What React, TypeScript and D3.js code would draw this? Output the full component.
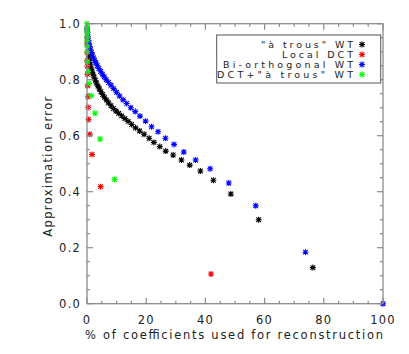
import React from "react";
import * as d3 from "d3";

// "à trous" WT (black)
const atrousX = [0.03, 0.1, 0.2, 0.4, 0.6, 0.8, 1.1, 1.4, 1.7, 2.0, 2.4, 2.8, 3.2, 3.7, 4.2, 4.7, 5.3, 5.9, 6.6, 7.3, 8.1, 8.9, 9.8, 10.7, 11.7, 12.8, 13.9, 15.1, 16.4, 17.8, 19.3, 21.0, 22.6, 24.6, 26.6, 29.1, 31.9, 34.7, 38.3, 42.7, 48.6, 58.0, 76.3];
const atrousY = [0.98, 0.95, 0.925, 0.9, 0.882, 0.869, 0.855, 0.842, 0.831, 0.82, 0.809, 0.798, 0.788, 0.777, 0.767, 0.757, 0.747, 0.737, 0.727, 0.717, 0.707, 0.697, 0.688, 0.68, 0.671, 0.661, 0.651, 0.64, 0.628, 0.617, 0.605, 0.591, 0.576, 0.561, 0.545, 0.531, 0.513, 0.495, 0.474, 0.441, 0.392, 0.3, 0.129];

// Local DCT (red)
const dctX = [0.03, 0.05, 0.08, 0.1, 0.15, 0.2, 0.3, 0.4, 0.5, 0.9, 1.7, 4.6, 41.9];
const dctY = [0.93, 0.896, 0.868, 0.849, 0.819, 0.778, 0.739, 0.701, 0.658, 0.605, 0.533, 0.418, 0.106];

// Bi-orthogonal WT (blue)
const biX = [0.05, 0.15, 0.3, 0.5, 0.7, 0.9, 1.2, 1.5, 1.8, 2.2, 2.6, 3.0, 3.5, 4.0, 4.6, 5.2, 5.8, 6.5, 7.3, 8.1, 9.0, 10.0, 11.0, 12.2, 13.4, 14.8, 16.3, 17.9, 19.8, 21.8, 24.0, 26.5, 29.4, 32.7, 36.7, 41.6, 47.9, 57.0, 73.8, 100];
const biY = [0.985, 0.97, 0.955, 0.94, 0.928, 0.918, 0.907, 0.897, 0.888, 0.878, 0.868, 0.86, 0.85, 0.84, 0.83, 0.82, 0.81, 0.8, 0.79, 0.78, 0.768, 0.755, 0.742, 0.728, 0.715, 0.7, 0.686, 0.67, 0.652, 0.632, 0.614, 0.591, 0.569, 0.542, 0.513, 0.482, 0.431, 0.35, 0.184, 0.0];

// DCT + "à trous" WT (green)
const comboX = [0.0, 0.0, 0.02, 0.03, 0.04, 0.05, 0.07, 0.1, 0.34, 0.7, 1.45, 2.7, 4.4, 9.3];
const comboY = [1.0, 0.985, 0.97, 0.955, 0.94, 0.92, 0.9, 0.864, 0.829, 0.787, 0.743, 0.68, 0.588, 0.444];

const seriesNames = ['"à trous" WT', "Local DCT", "Bi-orthogonal WT", 'DCT+"à trous" WT'];
const seriesColors = ["#000000", "#ff0000", "#0000ff", "#00ff00"];
const legendWidths = [92, 71, 130, 136];

const xTickFmt = d3.format("d");
const yTickFmt = d3.format(".1f");

const FONT = "'DejaVu Sans', sans-serif";

function Star({ cx, cy, color }: { cx: number; cy: number; color: string }) {
  const h = 3;
  const d = 2.3;
  return (
    <path
      d={`M${cx - h},${cy}H${cx + h}M${cx},${cy - h}V${cy + h}M${cx - d},${cy - d}L${cx + d},${cy + d}M${cx - d},${cy + d}L${cx + d},${cy - d}`}
      stroke={color}
      strokeWidth={1.1}
      fill="none"
    />
  );
}

export default function App() {
  const W = 409;
  const H = 354;
  const x = d3.scaleLinear().domain([0, 100]).range([87, 383]);
  const y = d3.scaleLinear().domain([0, 1]).range([303.7, 23.7]);
  const [x0, x1] = x.range();
  const [yb, yt] = y.range();
  const axisColor = "#8a8a8a";
  const textColor = "#222";

  const series = [
    { xs: atrousX, ys: atrousY },
    { xs: dctX, ys: dctY },
    { xs: biX, ys: biY },
    { xs: comboX, ys: comboY },
  ];

  const xMajor = x.ticks(5);
  const xMinor = x.ticks(20);
  const yMajor = y.ticks(5);
  const yMinor = y.ticks(20);
  const isMajor = (v: number, arr: number[]) => arr.some((m) => Math.abs(m - v) < 1e-9);

  return (
    <svg
      width={W}
      height={H}
      style={{ position: "absolute", left: 0, top: 0, background: "#fff" }}
      fontFamily={FONT}
    >
      <rect x={0} y={0} width={W} height={H} fill="#fff" />
      {/* data */}
      {series.map((s, si) =>
        s.xs.map((xv, i) => (
          <Star key={`${si}-${i}`} cx={x(xv)} cy={y(s.ys[i])} color={seriesColors[si]} />
        ))
      )}
      {/* frame */}
      <rect x={x0} y={yt} width={x1 - x0} height={yb - yt} fill="none" stroke={axisColor} strokeWidth={1.3} />
      {xMinor.map((v) => {
        const len = isMajor(v, xMajor) ? 6 : 3;
        return (
          <g key={`xt${v}`} stroke={axisColor} strokeWidth={1.2}>
            <line x1={x(v)} x2={x(v)} y1={yb} y2={yb - len} />
            <line x1={x(v)} x2={x(v)} y1={yt} y2={yt + len} />
          </g>
        );
      })}
      {yMinor.map((v) => {
        const len = isMajor(v, yMajor) ? 6 : 3;
        return (
          <g key={`yt${v}`} stroke={axisColor} strokeWidth={1.2}>
            <line x1={x0} x2={x0 + len} y1={y(v)} y2={y(v)} />
            <line x1={x1} x2={x1 - len} y1={y(v)} y2={y(v)} />
          </g>
        );
      })}
      {/* tick labels */}
      {xMajor.map((v) => (
        <text
          key={`xl${v}`}
          x={x(v)}
          y={324}
          textAnchor="middle"
          fontSize={11.5}
          letterSpacing={1.2}
          fill={textColor}
        >
          {xTickFmt(v)}
        </text>
      ))}
      {yMajor.map((v) => (
        <text
          key={`yl${v}`}
          x={81}
          y={y(v) + 4}
          textAnchor="end"
          fontSize={11.5}
          letterSpacing={1.2}
          fill={textColor}
        >
          {yTickFmt(v)}
        </text>
      ))}
      {/* axis titles */}
      <text
        x={85}
        y={339}
        fontSize={11.5}
        fill={textColor}
        textLength={298}
        lengthAdjust="spacing"
      >
        % of coefficients used for reconstruction
      </text>
      <text
        transform={`translate(52,236.7) rotate(-90)`}
        fontSize={11.5}
        fill={textColor}
        textLength={140}
        lengthAdjust="spacing"
      >
        Approximation error
      </text>
      {/* legend */}
      <rect x={216.7} y={35} width={164} height={48} fill="#fff" stroke="#555" strokeWidth={1} />
      {seriesNames.map((name, i) => {
        const cy = 44.5 + i * 10;
        return (
          <g key={`lg${i}`}>
            <text
              x={353 - legendWidths[i]}
              y={cy + 3.5}
              fontSize={9.5}
              fill={textColor}
              textLength={legendWidths[i]}
              lengthAdjust="spacing"
            >
              {name}
            </text>
            <Star cx={362} cy={cy} color={seriesColors[i]} />
          </g>
        );
      })}
    </svg>
  );
}
